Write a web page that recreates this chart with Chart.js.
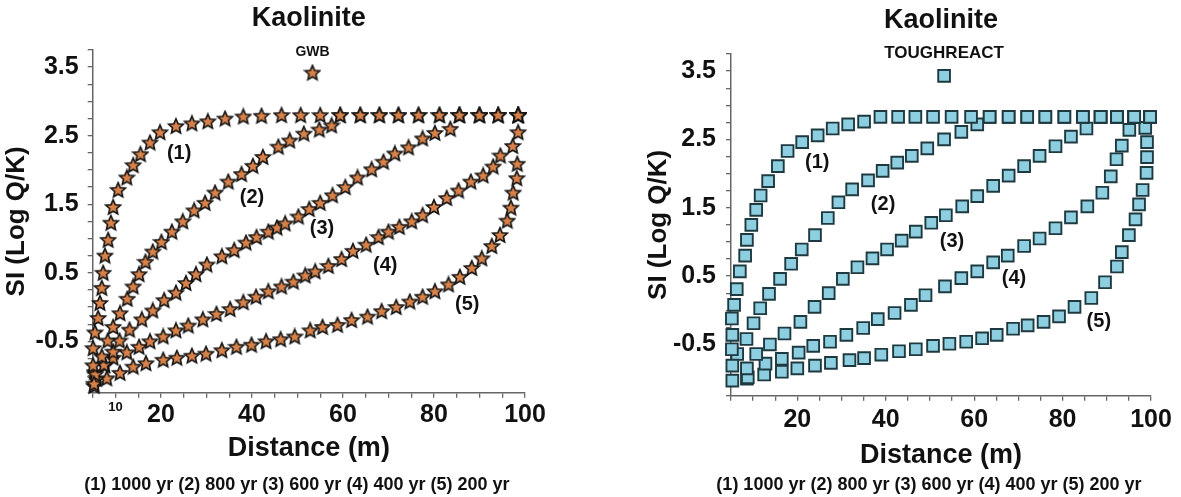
<!DOCTYPE html>
<html>
<head>
<meta charset="utf-8">
<script src="https://cdn.jsdelivr.net/npm/chart.js@4.4.1/dist/chart.umd.min.js"></script>
<style>
  html, body { margin: 0; padding: 0; background: #fff; }
  #wrap { position: relative; width: 1181px; height: 497px; overflow: hidden; }
  #gwbChart { position: absolute; left: 0; top: 0; }
  #trChart { position: absolute; left: 600px; top: 0; }
</style>
</head>
<body>
<div id="wrap">
  <canvas id="gwbChart" width="560" height="497"></canvas>
  <canvas id="trChart" width="581" height="497"></canvas>
</div>
<script>
const FONT = "'Liberation Sans', Arial, Helvetica, sans-serif";
Chart.defaults.font.family = FONT;
Chart.defaults.color = '#111';

// tick values that get a label
const xLabelsGwb = [10, 20, 40, 60, 80, 100];
const xLabelsTr = [20, 40, 60, 80, 100];
const yLabels = [-0.5, 0.5, 1.5, 2.5, 3.5];
const curveNames = ['(1)', '(2)', '(3)', '(4)', '(5)'];
const footnote = '(1) 1000 yr (2) 800 yr (3) 600 yr (4) 400 yr (5) 200 yr';

// GWB: [distance (m), SI]
const gwb1 = [[5.3,-1.12],[5.1,-0.85],[5.1,-0.6],[5.5,-0.37],[6.2,-0.16],[6.6,0.06],[7.0,0.28],[7.3,0.5],[7.7,0.75],[8.4,0.98],[9.0,1.23],[9.5,1.46],[10.6,1.71],[12.5,1.89],[13.9,2.07],[15.5,2.23],[17.6,2.40],[19.8,2.55],[23.3,2.64],[26.8,2.68],[30.3,2.71],[34.1,2.75],[38.1,2.78],[42.1,2.79],[46.5,2.80],[50.7,2.80],[55.0,2.80],[59.4,2.80],[63.8,2.80],[68.0,2.80],[72.2,2.80],[76.6,2.80],[81.2,2.80],[85.6,2.80],[90.0,2.80],[94.1,2.80],[98.5,2.80]];
const gwb2 = [[5.6,-0.98],[7.0,-0.72],[8.3,-0.49],[9.5,-0.29],[11.0,-0.09],[12.6,0.12],[13.9,0.30],[15.2,0.48],[16.6,0.66],[18.2,0.81],[20.1,0.95],[22.4,1.10],[24.8,1.25],[27.3,1.41],[29.7,1.52],[31.9,1.67],[34.8,1.83],[37.7,1.94],[40.2,2.06],[42.4,2.19],[45.8,2.34],[48.3,2.43],[51.4,2.53],[54.8,2.59],[57.5,2.65],[59.4,2.80],[63.8,2.80],[68.0,2.80],[72.2,2.80],[76.6,2.80],[81.2,2.80],[85.6,2.80],[90.0,2.80],[94.1,2.80],[98.5,2.80]];
const gwb3 = [[5.8,-1.05],[7.5,-0.84],[9.5,-0.65],[10.9,-0.49],[13.1,-0.33],[15.8,-0.18],[18.2,-0.05],[20.7,0.10],[23.3,0.21],[25.5,0.35],[27.7,0.48],[30.1,0.62],[33.4,0.74],[36.1,0.83],[38.7,0.94],[41.0,1.02],[43.6,1.10],[45.5,1.16],[47.3,1.22],[50.2,1.32],[52.6,1.43],[55.0,1.52],[57.7,1.63],[60.5,1.75],[63.2,1.89],[66.3,2.01],[68.9,2.12],[71.4,2.24],[74.4,2.33],[77.5,2.46],[80.2,2.54],[83.6,2.60],[85.6,2.80],[90.0,2.80],[94.1,2.80],[98.5,2.80]];
const gwb4 = [[5.4,-0.95],[7.7,-0.85],[9.5,-0.74],[12.5,-0.66],[15.2,-0.58],[17.6,-0.50],[20.5,-0.43],[23.3,-0.34],[26.0,-0.27],[29.2,-0.18],[32.2,-0.10],[35.2,-0.03],[38.1,0.07],[40.9,0.15],[43.6,0.23],[46.5,0.30],[49.1,0.37],[51.7,0.46],[53.9,0.52],[56.8,0.60],[59.7,0.70],[62.2,0.82],[65.1,0.91],[67.8,1.02],[70.0,1.10],[72.4,1.17],[75.1,1.25],[77.5,1.34],[80.0,1.46],[82.8,1.59],[85.4,1.70],[88.1,1.83],[90.8,1.92],[93.0,2.05],[94.6,2.21],[97.3,2.35],[98.5,2.55],[98.5,2.80]];
const gwb5 = [[5.3,-1.15],[8.1,-1.04],[11.0,-0.96],[13.9,-0.87],[16.7,-0.82],[20.5,-0.77],[23.5,-0.74],[26.8,-0.71],[29.9,-0.68],[33.4,-0.63],[36.6,-0.58],[39.9,-0.55],[43.1,-0.50],[46.3,-0.47],[49.4,-0.43],[52.8,-0.34],[55.5,-0.29],[58.8,-0.26],[61.9,-0.19],[65.4,-0.14],[68.5,-0.06],[71.7,0.00],[74.7,0.08],[77.5,0.15],[80.2,0.23],[83.2,0.33],[85.7,0.44],[88.3,0.57],[90.5,0.71],[92.7,0.89],[94.5,1.05],[96.1,1.26],[96.9,1.45],[97.4,1.67],[98.2,1.88],[98.3,2.09],[98.5,2.80]];
const gwbKey = [[53.3, 3.42]];
const gwbCurveLabels = [[24.0, 2.24], [40.0, 1.60], [55.4, 1.15], [69.3, 0.61], [87.3, 0.04]];

// TOUGHREACT: [distance (m), SI]
const tr1 = [[5.3,-0.81],[5.2,-0.57],[5.3,-0.36],[5.2,-0.12],[5.7,0.08],[6.3,0.31],[7.0,0.57],[8.2,0.80],[8.6,1.03],[9.6,1.25],[10.7,1.47],[11.7,1.68],[13.4,1.89],[15.6,2.11],[17.8,2.33],[21.1,2.46],[24.6,2.56],[28.0,2.66],[31.5,2.72],[35.1,2.76],[38.8,2.83],[42.8,2.83],[46.7,2.83],[50.7,2.83],[54.9,2.83],[59.3,2.83],[63.5,2.83],[67.8,2.83],[72.0,2.83],[76.1,2.83],[80.4,2.83],[84.6,2.83],[88.6,2.83],[92.3,2.83],[96.2,2.83],[99.8,2.83]];
const tr2 = [[6.4,-0.64],[8.5,-0.42],[10.1,-0.19],[11.6,0.03],[13.6,0.24],[16.1,0.46],[18.6,0.68],[21.0,0.89],[24.0,1.10],[26.9,1.35],[29.3,1.58],[32.4,1.77],[36.0,1.90],[39.3,2.04],[42.6,2.16],[45.9,2.26],[49.4,2.37],[53.2,2.50],[57.1,2.61],[60.7,2.72],[63.5,2.83],[67.8,2.83],[72.0,2.83],[76.1,2.83],[80.4,2.83],[84.6,2.83],[88.6,2.83],[92.3,2.83],[96.2,2.83],[99.8,2.83]];
const tr3 = [[8.6,-0.85],[10.7,-0.64],[13.8,-0.50],[17.1,-0.34],[20.7,-0.17],[23.9,0.05],[27.1,0.25],[30.3,0.46],[33.6,0.63],[37.0,0.76],[40.3,0.89],[43.6,1.02],[46.8,1.15],[50.3,1.28],[53.6,1.39],[57.3,1.52],[60.7,1.67],[64.3,1.82],[67.8,1.97],[71.3,2.11],[74.8,2.26],[78.4,2.40],[81.9,2.54],[85.4,2.66],[88.6,2.83],[92.3,2.83],[96.2,2.83],[99.8,2.83]];
const tr4 = [[8.8,-0.98],[12.8,-0.78],[16.5,-0.71],[20.3,-0.62],[23.6,-0.52],[27.4,-0.46],[31.1,-0.36],[34.9,-0.26],[38.2,-0.13],[42.0,-0.04],[45.7,0.08],[49.0,0.22],[53.4,0.35],[57.1,0.47],[60.7,0.57],[64.3,0.70],[67.6,0.80],[71.3,0.94],[74.8,1.05],[78.4,1.20],[81.9,1.36],[85.6,1.52],[89.0,1.72],[90.9,1.96],[92.2,2.21],[93.4,2.41],[95.1,2.64],[96.2,2.83],[99.8,2.83]];
const tr5 = [[5.3,-1.03],[8.6,-1.0],[12.5,-0.94],[16.5,-0.90],[20.0,-0.85],[24.0,-0.81],[27.6,-0.77],[31.8,-0.73],[35.1,-0.70],[39.0,-0.65],[43.0,-0.60],[46.8,-0.57],[50.7,-0.52],[54.4,-0.49],[58.2,-0.46],[61.8,-0.41],[65.1,-0.36],[68.8,-0.27],[72.1,-0.22],[75.7,-0.17],[79.2,-0.09],[82.7,0.05],[86.5,0.18],[89.6,0.41],[92.3,0.64],[93.4,0.85],[95.0,1.10],[96.5,1.33],[97.3,1.55],[98.1,1.76],[99.0,2.01],[99.1,2.24],[99.1,2.46],[98.7,2.67],[99.8,2.83]];
const trKey = [[53.2, 3.43]];
const trCurveLabels = [[24.5, 2.16], [39.4, 1.55], [55.0, 1.00], [69.0, 0.46], [88.2, -0.17]];

// orange star with black outline, used as point image
function starImage() {
  const c = document.createElement('canvas');
  c.width = 18; c.height = 18;
  const g = c.getContext('2d');
  g.beginPath();
  for (let i = 0; i < 10; i++) {
    const r = i % 2 ? 3.6 : 7.8;
    const a = -Math.PI / 2 + i * Math.PI / 5;
    g.lineTo(9 + r * Math.cos(a), 9.6 + r * Math.sin(a));
  }
  g.closePath();
  g.fillStyle = '#d8824a';
  g.fill();
  g.lineWidth = 1.6;
  g.strokeStyle = '#141414';
  g.stroke();
  return c;
}

// writes the (1)..(5) tags, the model name over its marker and the footnote
const textTags = {
  id: 'textTags',
  afterDatasetsDraw(chart, args, opts) {
    const {ctx, chartArea, scales: {x, y}} = chart;
    ctx.save();
    ctx.fillStyle = '#111';
    ctx.textAlign = 'center';
    ctx.textBaseline = 'middle';
    ctx.font = 'bold 20px ' + FONT;
    opts.tags.forEach((p, i) => {
      ctx.fillText(curveNames[i], x.getPixelForValue(p[0]), y.getPixelForValue(p[1]));
    });
    ctx.font = 'bold ' + opts.nameSize + 'px ' + FONT;
    ctx.fillText(opts.name, x.getPixelForValue(opts.key[0]), y.getPixelForValue(opts.key[1]) + opts.nameDy);
    ctx.font = 'bold 18px ' + FONT;
    ctx.fillText(footnote, (chartArea.left + chartArea.right) / 2 - 12, chart.height - 12);
    ctx.restore();
  }
};

function buildChart(id, cfg) {
  const all = cfg.series.concat([cfg.key]);
  const datasets = all.map((pts, i) => Object.assign({
    label: i < 5 ? curveNames[i] : cfg.name,
    data: pts.map(p => ({x: p[0], y: p[1]})),
    showLine: false,
    clip: false
  }, cfg.marker));

  return new Chart(id, {
    type: 'scatter',
    data: {datasets: datasets},
    options: {
      responsive: false,
      animation: false,
      events: [],
      layout: {padding: {left: 0, right: cfg.padRight, top: 0, bottom: 23.4}},
      plugins: {
        legend: {display: false},
        tooltip: {enabled: false},
        title: {
          display: true, text: 'Kaolinite', fullSize: false, color: '#111',
          font: {size: 27, weight: 'bold'},
          padding: {top: cfg.titleTop, bottom: cfg.titleBottom}
        },
        textTags: {tags: cfg.tags, name: cfg.name, nameSize: cfg.nameSize, nameDy: cfg.nameDy, key: cfg.key[0]}
      },
      scales: {
        x: {
          type: 'linear', min: 5, max: 100,
          afterFit: s => { s.height = cfg.xHeight; },
          border: {color: '#666', width: 1.5},
          grid: {drawOnChartArea: false, tickLength: 5, color: '#666', lineWidth: 1.3},
          ticks: {
            stepSize: 5, autoSkip: false, maxRotation: 0, padding: cfg.xTickPad, color: '#111',
            callback: v => cfg.xLabels.includes(v) ? String(v) : '',
            font: ctx => ({size: ctx.tick && ctx.tick.value === 10 ? 13 : 25, weight: 'bold'})
          },
          title: {
            display: true, text: 'Distance (m)', color: '#111',
            font: {size: 27, weight: 'bold'},
            padding: {top: 0, bottom: cfg.xTitlePad}
          }
        },
        y: {
          type: 'linear', min: -1.25, max: 3.75,
          afterFit: s => { s.width = cfg.yWidth; },
          border: {color: '#666', width: 1.5},
          grid: {drawOnChartArea: false, tickLength: 5, color: '#666', lineWidth: 1.3},
          ticks: {
            stepSize: 0.25, autoSkip: false, padding: cfg.yTickPad, color: '#111',
            font: {size: 25, weight: 'bold'},
            callback: v => yLabels.some(l => Math.abs(l - v) < 1e-6) ? v.toFixed(1) : ''
          },
          title: {
            display: true, text: 'SI (Log Q/K)', color: '#111',
            font: {size: 26, weight: 'bold'},
            padding: {top: cfg.yTitlePad, bottom: 0}
          }
        }
      }
    },
    plugins: [textTags]
  });
}

buildChart('gwbChart', {
  name: 'GWB', nameSize: 14, nameDy: -20,
  series: [gwb1, gwb2, gwb3, gwb4, gwb5], key: gwbKey, tags: gwbCurveLabels,
  xLabels: xLabelsGwb,
  marker: {pointStyle: starImage(), pointRadius: 8},
  padRight: 35, titleTop: 2.5, titleBottom: 15.1,
  xHeight: 80.9, xTickPad: 2, xTitlePad: 9, yWidth: 92.7, yTitlePad: 1, yTickPad: 9
});

buildChart('trChart', {
  name: 'TOUGHREACT', nameSize: 17, nameDy: -23,
  series: [tr1, tr2, tr3, tr4, tr5], key: trKey, tags: trCurveLabels,
  xLabels: xLabelsTr,
  marker: {pointStyle: 'rect', pointRadius: 8.3, backgroundColor: '#8dcfe0', borderColor: '#1e3a40', pointBorderWidth: 1.9},
  padRight: 30, titleTop: 4, titleBottom: 17.6,
  xHeight: 77.9, xTickPad: 4, xTitlePad: 2, yWidth: 131, yTitlePad: 43, yTickPad: 10
});
</script>
</body>
</html>
